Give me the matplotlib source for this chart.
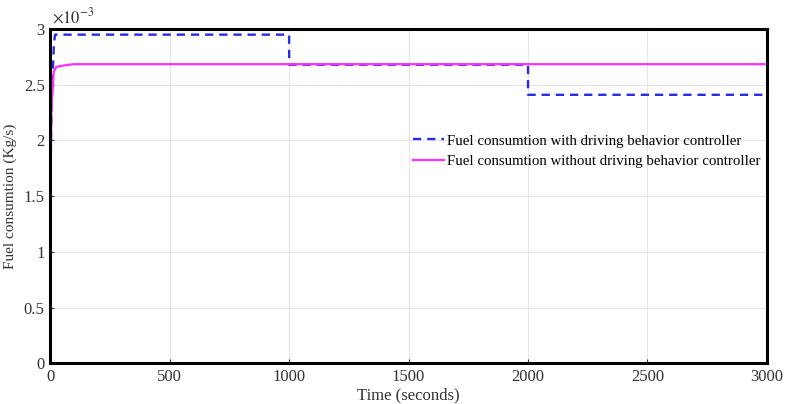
import numpy as np
import matplotlib.pyplot as plt

plt.rcParams['font.family'] = ['Liberation Serif', 'DejaVu Serif']
plt.rcParams['mathtext.fontset'] = 'stix'

# fuel consumption with driving behaviour controller (step profile), in 1e-3 kg/s
t_with = [0, 5, 15, 20, 1000, 1000, 2000, 2000, 3000]
fuel_with = [1.5, 2.3, 2.85, 2.95, 2.95, 2.68, 2.68, 2.41, 2.41]

# fuel consumption without controller, in 1e-3 kg/s
t_without = [0, 5, 15, 25, 60, 100, 3000]
fuel_without = [1.5, 2.3, 2.62, 2.66, 2.675, 2.685, 2.685]

fig = plt.figure(figsize=(7.85, 4.04), dpi=100)
ax = fig.add_axes([0.064, 0.101, 0.913, 0.827])

ax.plot(t_with, fuel_with, '--', color='#2a2ae6', lw=1.7, dashes=(3.5, 2.5),
        label='Fuel consumtion with driving behavior controller')
ax.plot(t_without, fuel_without, '-', color='#ff30ff', lw=1.6,
        label='Fuel consumtion without driving behavior controller')

ax.set_xlim(0, 3000)
ax.set_ylim(0, 3)
ax.set_xticks(np.arange(0, 3001, 500))
ax.set_yticks([0, 0.5, 1, 1.5, 2, 2.5, 3])
ax.set_yticklabels(['0', '0.5', '1', '1.5', '2', '2.5', '3'])
ax.grid(True, color='#e6e6e6', lw=0.8)
ax.tick_params(direction='in', labelsize=12, colors='#333333', length=3, pad=4)
for s in ax.spines.values():
    s.set_linewidth(2.2)
ax.text(0.002, 1.005, r'$\times10^{-3}$', transform=ax.transAxes, fontsize=12,
        color='#333333', ha='left', va='bottom')

ax.set_xlabel('Time (seconds)', fontsize=12, color='#333333', labelpad=2)
ax.set_ylabel('Fuel consumtion (Kg/s)', fontsize=11, color='#333333', labelpad=5)

ax.legend(loc='upper left', bbox_to_anchor=(0.498, 0.703), frameon=False,
          fontsize=10.7, handlelength=2.1, handletextpad=0.15, labelspacing=0.45,
          borderaxespad=0)

fig.savefig('out.png', dpi=100)
